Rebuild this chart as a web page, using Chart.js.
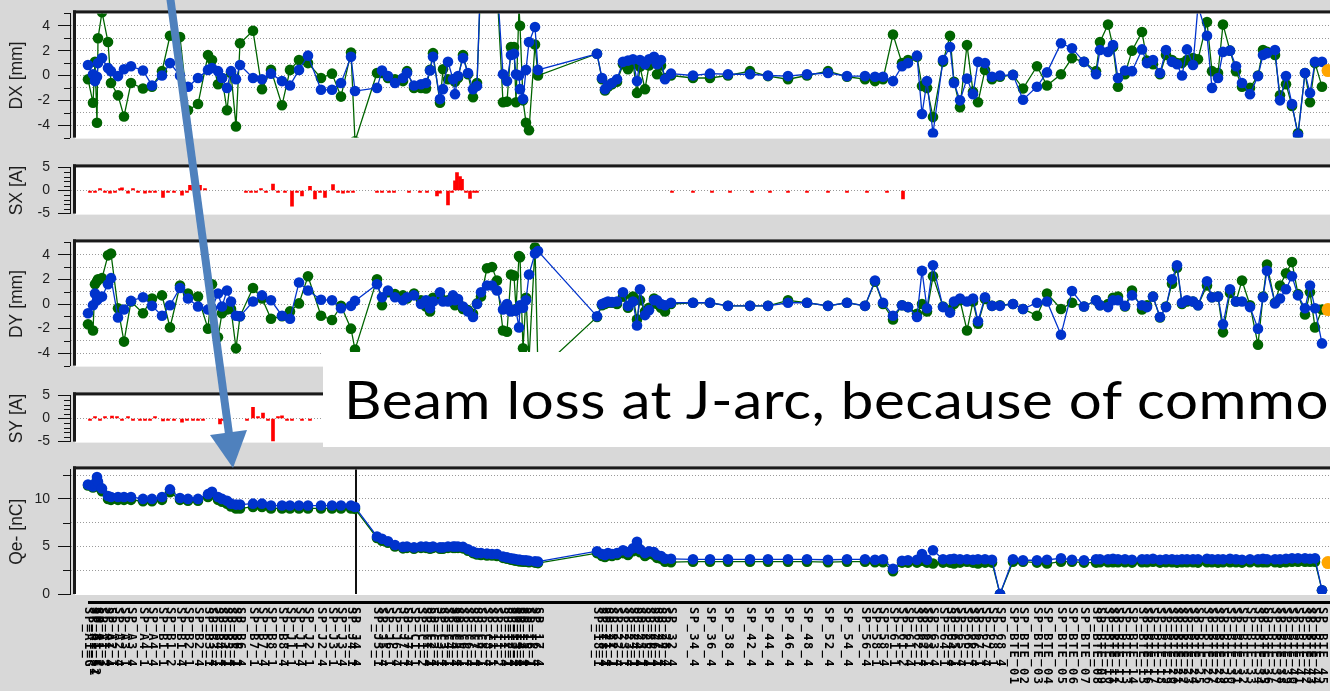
<!DOCTYPE html>
<html>
<head>
<meta charset="utf-8">
<title>Linac BPM orbit and charge</title>
<script src="https://cdn.jsdelivr.net/npm/chart.js@4.4.1/dist/chart.umd.min.js"></script>
<style>
  html, body { margin: 0; padding: 0; background: #d8d8d8; overflow: hidden; }
  #stage { position: relative; width: 1330px; height: 691px; overflow: hidden; background: #d8d8d8; }
  #stage canvas { position: absolute; left: 0; }
  #note { position: absolute; left: 323px; top: 352px; width: 1100px; height: 95px; background: #fff; }
  #note span { position: absolute; left: 21px; top: 21px; font-family: Lato, 'Open Sans', sans-serif;
               font-size: 52px; line-height: 52px; letter-spacing: 0.5px; color: #000; white-space: nowrap;
               transform: scaleX(1.12); transform-origin: 0 0; }
  #arrow { position: absolute; left: 0; top: 0; }
</style>
</head>
<body>
<div id="stage">
  <div id="note"><span>Beam loss at J-arc, because of common</span></div>
  <svg id="arrow" width="1330" height="691">
    <line x1="170" y1="-4" x2="229" y2="434" stroke="#4f81bd" stroke-width="8"/>
    <polygon points="210,435 247,430 233,468" fill="#4f81bd"/>
  </svg>
</div>
<script>
// ---- BPM positions along the line, s [m] ----
const bpmS = [
  // A/B sectors
  1.8, 2.3, 2.5, 2.7, 2.8, 3.2, 3.8, 4.1, 4.8, 5.4, 6.1, 7.3, 8.2, 9.2, 10.0, 11.0, 11.8, 12.8, 13.8,
  14.2, 14.8, 15.2, 15.7, 16.1, 16.6, 17.0, 18.3, 19.2, 20.1, 21.2, 22.0, 22.9, 23.8, 25.1, 26.2, 27.1, 28.1, 28.5,
  // after the J-arc
  30.7, 31.2, 31.8, 32.5, 33.3, 33.7, 34.4, 35.1, 35.6, 36.0, 36.3, 37.0, 37.3, 37.8, 38.3, 38.5, 38.8, 39.3, 39.8,
  40.3, 40.7, 41.1, 41.7, 42.2, 42.7, 43.3, 43.7, 44.1, 44.4, 44.6, 44.9, 45.0, 45.3, 45.6, 45.9, 46.5, 46.8,
  // sector 2
  52.7, 53.2, 53.5, 53.8, 54.2, 54.7, 55.3, 55.8, 56.3, 56.7, 57.0, 57.5, 57.9, 58.4, 58.7, 59.1, 59.5, 60.1,
  // sectors 3-5
  62.3, 64.0, 65.8, 68.0, 69.8, 71.8, 73.7, 75.8, 77.7, 79.5, 80.5, 81.3,
  // sector 6 and transport line
  82.3, 83.2, 83.8, 84.7, 85.2, 85.7, 86.3, 87.3, 88.0, 88.4, 89.0, 89.7, 90.3, 90.8, 91.5, 92.2, 93.0, 94.3, 95.3, 96.7,
  97.7, 99.1, 100.2, 101.4, 102.6, 103.0, 103.8, 104.3, 104.8, 105.5, 106.2, 107.2, 107.7, 108.3, 109.0, 109.6, 110.2, 110.7, 111.2, 111.7,
  112.3, 112.8, 113.7, 114.2, 114.8, 115.3, 116.0, 116.6, 117.2, 118.0, 118.8, 119.3, 119.7, 120.5, 121.0, 121.6, 122.2, 122.8, 123.5, 124.0,
  124.5, 125.2
];

const bpmNames = (
  'SP_A1_G SP_A1_S1 SP_A1_S2 SP_A1_1 SP_A1_2 SP_A1_3 SP_A1_4 SP_A2_1 SP_A2_4 SP_A3_1 SP_A3_4 SP_A4_1 SP_A4_4 ' +
  'SP_B1_1 SP_B1_2 SP_B1_4 SP_B2_1 SP_B2_4 SP_B3_1 SP_B3_4 SP_B4_1 SP_B4_4 SP_B5_1 SP_B5_4 SP_B6_1 SP_B6_4 ' +
  'SP_B7_1 SP_B7_4 SP_B8_1 SP_B8_4 SP_J1_1 SP_J1_4 SP_J2_1 SP_J2_4 SP_J3_1 SP_J3_4 SP_J4_1 SP_J4_4 ' +
  'SP_J5_1 SP_J5_4 SP_J6_1 SP_J6_4 SP_J7_1 SP_J7_4 SP_C1_1 SP_C1_2 SP_C1_4 SP_C2_1 SP_C2_4 SP_C3_1 SP_C3_4 ' +
  'SP_C4_1 SP_C4_4 SP_C5_1 SP_C5_4 SP_C6_1 SP_C6_4 SP_C7_1 SP_C7_4 SP_C8_1 SP_C8_4 SP_11_1 SP_11_2 SP_11_4 ' +
  'SP_12_1 SP_12_4 SP_13_1 SP_13_4 SP_14_1 SP_14_4 SP_15_1 SP_15_4 SP_16_1 SP_16_4 SP_17_4 ' +
  'SP_18_1 SP_18_4 SP_21_1 SP_21_4 SP_22_1 SP_22_4 SP_23_1 SP_23_4 SP_24_1 SP_24_4 SP_25_1 SP_25_4 SP_26_1 ' +
  'SP_26_4 SP_27_1 SP_27_4 SP_28_4 SP_32_4 ' +
  'SP_34_4 SP_36_4 SP_38_4 SP_42_4 SP_44_4 SP_46_4 SP_48_4 SP_52_4 SP_54_4 SP_56_4 SP_58_1 SP_58_4 ' +
  'SP_61_1 SP_61_2 SP_61_4 SP_62_1 SP_62_4 SP_63_1 SP_63_4 SP_64_1 SP_64_4 SP_65_1 SP_65_4 SP_66_1 SP_66_4 ' +
  'SP_67_1 SP_67_4 SP_68_1 SP_68_4 ' +
  'SP_BTE_01 SP_BTE_02 SP_BTE_03 SP_BTE_04 SP_BTE_05 SP_BTE_06 SP_BTE_07 SP_BTE_08 SP_BTE_09 SP_BTE_10 ' +
  'SP_BTE_11 SP_BTE_12 SP_BTE_13 SP_BTE_14 SP_BTE_15 SP_BTE_16 SP_BTE_17 SP_BTE_18 SP_BTE_19 SP_BTE_20 ' +
  'SP_BTE_21 SP_BTE_22 SP_BTE_23 SP_BTE_24 SP_BTE_25 SP_BTE_26 SP_BTE_27 SP_BTE_28 SP_BTE_29 SP_BTE_30 ' +
  'SP_BTE_31 SP_BTE_32 SP_BTE_33 SP_BTE_34 SP_BTE_35 SP_BTE_36 SP_BTE_37 SP_BTE_38 SP_BTE_39 SP_BTE_40 ' +
  'SP_BTE_41 SP_BTE_42 SP_BTE_43 SP_BTE_44 SP_BTE_45'
).split(' ');

// ---- horizontal orbit DX [mm]: reference (green) and present (blue) ----
const dxRef = [
  -0.3, -2.2, 1.1, -3.8, 3.0, 5.1, 2.7, -0.6, -1.6, -3.3, -0.6, -1.05, -0.9, 0.35, 3.2, 3.1, -2.8, -2.3, 1.65,
  1.25, -0.7, -0.2, -2.8, 0.2, -4.1, 2.6, 3.6, -1.1, 0.45, -2.4, 0.45, 1.25, 1.0, -0.2, 0.15, -1.7, 1.85, -5.3,
  0.2, 0.2, -0.2, -0.3, -0.45, 0.35, -1.0, -1.0, -1.05, 0.45, 1.8, -2.2, 0.5, -0.3, -0.3, -0.5, -0.2, 1.65, 0.1,
  -1.75, -0.6, 8.0, 9.0, 9.0, 7.0, -2.15, -2.1, 2.3, 2.3, -2.15, 5.5, 4.0, -2.0, -3.8, -4.4, 2.5, 0.0,
  1.75, -0.3, -1.2, -0.9, -0.7, -0.5, 0.9, 0.5, 1.0, -1.4, 0.7, -1.1, 0.8, 1.2, 0.1, 0.8, -0.2, 0.0,
  -0.2, -0.2, 0.0, 0.35, -0.05, -0.3, 0.0, 0.35, -0.1, -0.3, -0.45, -0.3,
  3.3, 1.0, 1.25, 1.5, -0.85, -1.0, -3.35, 1.1, 3.2, -0.5, -2.55, 2.45, -1.3, -2.15, 0.45, -0.3, -0.1, 0.05, -1.05, 0.75,
  -0.8, 0.1, 1.4, 1.1, 0.35, 2.7, 4.1, 2.3, -0.9, 0.1, 2.0, 3.5, 1.2, 0.9, 0.1, 1.65, 1.25, 1.0, 1.0, 1.25,
  1.4, 1.3, 4.3, 0.35, 0.2, 4.1, 2.0, 0.35, -0.9, -1.0, 0.0, 2.05, 1.9, 1.65, -1.6, -0.7, -2.45, -4.65, 0.2, -2.15,
  1.0, -0.9
];
const dxNow = [
  0.85, 0.1, -0.45, -0.1, 1.0, 1.4, 0.6, 0.35, -0.05, 0.5, 0.75, 0.4, -0.8, 0.0, 1.0, 0.0, -0.9, -0.2, 0.45,
  0.6, 0.35, -0.2, -1.0, 0.35, -0.3, 0.85, -0.2, -0.3, 0.15, -0.45, -0.8, 0.45, 1.6, -1.15, -1.15, -0.6, 1.5, -1.25,
  -1.0, 0.4, -0.05, -0.6, -0.2, 0.2, -0.8, -0.7, -0.6, 0.4, 1.5, -1.9, -1.1, 1.1, -0.3, -1.5, -0.05, 1.4, 0.2,
  -1.1, -0.85, 9.0, 9.0, 8.5, 7.5, 0.1, -0.45, 1.65, 1.75, 0.1, 0.0, -1.1, -1.9, 0.45, 2.7, 3.9, 0.45,
  1.75, -0.2, -1.1, -0.8, -0.6, -0.3, 1.1, 1.2, 1.3, -0.45, 1.25, 0.9, 1.3, 1.5, 0.9, 1.25, -0.3, 0.15,
  0.0, 0.15, 0.1, 0.1, 0.0, -0.05, 0.1, 0.2, -0.05, -0.05, -0.1, -0.1,
  -0.45, 0.75, 1.0, 1.6, -3.1, -0.45, -4.65, 1.25, 2.3, -0.6, -2.0, -0.25, -1.5, 1.1, 1.0, -0.1, 0.0, 0.05, -1.95, -0.9,
  0.25, 2.6, 2.2, 1.1, 0.1, 2.05, 1.9, 2.45, -0.2, 0.4, 0.35, 2.1, 1.0, 1.25, 0.2, 2.05, 1.1, 0.9, 0.0, 2.1,
  0.85, 5.6, 3.2, -1.0, -0.2, 1.9, 2.0, 0.75, -0.6, -1.5, -0.05, 1.65, 1.8, 2.05, -2.0, -0.05, -2.3, -4.8, 0.2, -1.4,
  1.1, 1.1
];

// ---- vertical orbit DY [mm] ----
const dyRef = [
  -1.65, -2.15, 1.6, 1.85, 2.0, 2.1, 3.95, 4.1, -0.35, -3.05, 0.2, -0.75, 0.45, 0.7, -1.9, 1.5, 0.85, 0.6, -2.0,
  1.6, -2.7, -0.75, -0.45, -0.4, -3.6, -1.0, 1.3, 0.45, -1.2, -1.0, -0.6, 0.05, 2.25, -0.95, -1.3, -0.15, -2.0, -3.7,
  2.0, -0.1, 0.95, 0.8, 0.7, 0.45, 0.85, 0.3, -0.2, -0.6, 0.5, 0.6, 0.3, 0.3, 0.3, -0.1, 0.2, -0.4, -0.5,
  -0.8, 0.05, 0.6, 2.9, 3.0, 1.9, -2.15, -2.25, 2.4, 2.3, -0.4, 3.9, 3.8, -3.6, 0.5, -4.5, 4.6, -5.5,
  -1.05, -0.1, 0.0, 0.1, 0.1, 0.0, 0.6, -0.3, 0.6, -1.25, 0.3, -0.6, -0.3, 0.45, 0.0, -0.3, -0.6, 0.0,
  0.1, 0.1, -0.15, -0.15, -0.15, 0.3, 0.1, -0.15, 0.1, -0.15, 1.8, 0.0,
  -1.25, -0.1, -0.25, -0.8, 0.0, -0.6, 2.25, -0.2, -0.5, 0.0, 0.3, -2.15, 0.2, -1.6, 0.4, -0.15, -0.1, 0.0, -0.4, -0.95,
  0.85, -0.4, 0.1, -0.2, 0.3, -0.1, 0.0, 0.5, 0.6, -0.2, 1.1, -0.45, -0.1, 0.6, -1.1, -0.2, 1.65, 2.95, 0.0, 0.2,
  0.2, -0.1, 1.5, 0.55, 0.6, -2.3, 0.9, 0.2, 1.9, -0.1, -3.3, 0.6, 3.2, 0.1, 1.5, 2.5, 3.4, 0.8, -0.85, 0.95,
  -1.9, -0.45
];
const dyNow = [
  -0.75, -0.1, 0.85, 0.3, 0.45, 0.6, 1.6, 2.1, -1.1, -0.45, 0.25, 0.55, -0.15, -0.95, -0.1, 1.3, 0.45, -0.2, -0.45,
  -0.35, 0.85, -0.2, 1.1, 0.2, -0.95, -1.0, 0.2, 0.7, 0.3, -0.95, -1.2, 1.75, 1.1, 0.35, 0.3, -0.35, -0.15, 0.25,
  1.6, 0.55, 1.1, 0.55, 0.3, 0.55, 0.7, 0.0, 0.3, -0.35, 0.2, 0.95, 0.2, 0.2, 0.7, 0.3, 0.4, -0.2, -0.6,
  -1.05, 0.0, 0.95, 1.5, 1.5, 1.1, -0.45, 0.0, -0.6, -0.5, -0.55, -1.9, -0.1, -0.3, 0.3, 2.4, 4.1, 4.3,
  -1.0, 0.0, 0.1, 0.2, 0.15, 0.2, 0.95, -0.15, 0.2, -1.75, 1.2, -0.9, -0.5, 0.3, 0.3, 0.0, -0.1, 0.1,
  0.1, 0.1, -0.15, -0.15, -0.15, 0.1, 0.1, -0.15, 0.1, -0.15, 1.9, 0.1,
  -0.95, -0.1, -0.25, -1.05, 2.7, -0.35, 3.15, -0.25, -0.7, 0.2, 0.45, 0.2, 0.45, -1.4, 0.55, -0.15, -0.15, 0.0, -0.4, 0.1,
  0.2, -2.5, 1.05, -0.2, 0.3, -0.1, -0.25, 0.3, 0.3, -0.15, 0.7, -0.1, -0.25, 0.6, -1.05, -0.25, 2.0, 3.15, 0.1, 0.3,
  0.2, -0.1, 1.85, 0.55, 0.6, -1.65, 1.2, 0.2, 0.2, -0.25, -2.0, 0.55, 2.7, 0.05, 0.45, 1.2, 2.25, 0.7, -0.35, 1.5,
  -0.35, -3.2
];

// ---- bunch charge Qe- [nC] ----
const qRef = [
  11.4, 11.2, 11.3, 12.0, 11.6, 10.8, 10.0, 9.9, 9.9, 9.9, 9.9, 9.75, 9.75, 9.9, 10.7, 9.9, 9.8, 9.8, 10.2,
  10.5, 9.9, 9.7, 9.5, 9.2, 9.0, 9.0, 9.15, 9.15, 9.0, 9.0, 9.0, 9.0, 9.0, 9.0, 9.0, 9.0, 9.0, 8.95,
  5.9, 5.6, 5.4, 5.0, 4.8, 4.85, 4.75, 4.85, 4.85, 4.75, 4.85, 4.75, 4.75, 4.85, 4.85, 4.85, 4.85, 4.8, 4.55,
  4.3, 4.15, 4.1, 4.05, 4.05, 4.0, 3.8, 3.7, 3.6, 3.55, 3.5, 3.45, 3.45, 3.4, 3.4, 3.35, 3.3, 3.25,
  4.3, 4.0, 3.9, 4.1, 4.0, 4.1, 4.3, 4.1, 4.5, 5.1, 4.4, 4.0, 4.2, 4.1, 3.8, 3.7, 3.4, 3.35,
  3.4, 3.4, 3.4, 3.4, 3.4, 3.4, 3.4, 3.35, 3.4, 3.4, 3.35, 3.35,
  2.4, 3.3, 3.3, 3.3, 3.5, 3.3, 3.2, 3.3, 3.3, 3.2, 3.3, 3.4, 3.3, 3.2, 3.3, 3.3, 0.0, 3.4, 3.4, 3.3,
  3.2, 3.4, 3.4, 3.3, 3.3, 3.35, 3.35, 3.35, 3.35, 3.35, 3.3, 3.35, 3.35, 3.4, 3.3, 3.35, 3.35, 3.3, 3.35, 3.35,
  3.35, 3.3, 3.35, 3.35, 3.3, 3.35, 3.35, 3.35, 3.3, 3.35, 3.35, 3.35, 3.35, 3.35, 3.3, 3.35, 3.4, 3.4, 3.4, 3.4,
  3.4, 0.4
];
const qNow = [
  11.5, 11.3, 11.6, 12.3, 11.8, 11.1, 10.3, 10.2, 10.2, 10.2, 10.2, 10.0, 10.0, 10.2, 11.0, 10.1, 10.0, 10.0, 10.5,
  10.75, 10.2, 10.0, 9.8, 9.5, 9.4, 9.4, 9.5, 9.5, 9.3, 9.3, 9.3, 9.3, 9.3, 9.3, 9.3, 9.3, 9.3, 9.15,
  6.05, 5.8, 5.55, 5.15, 4.95, 5.0, 4.9, 5.0, 5.0, 4.9, 5.0, 4.9, 4.9, 5.0, 5.0, 5.0, 5.0, 4.95, 4.7,
  4.45, 4.3, 4.3, 4.25, 4.2, 4.2, 3.95, 3.85, 3.75, 3.7, 3.65, 3.6, 3.6, 3.55, 3.55, 3.5, 3.45, 3.4,
  4.5, 4.2, 4.1, 4.3, 4.2, 4.3, 4.6, 4.4, 4.8, 5.5, 4.7, 4.3, 4.5, 4.4, 4.1, 4.0, 3.7, 3.7,
  3.65, 3.65, 3.65, 3.65, 3.65, 3.65, 3.65, 3.6, 3.65, 3.65, 3.6, 3.65,
  2.65, 3.5, 3.55, 3.6, 4.2, 3.6, 4.6, 3.65, 3.65, 3.7, 3.65, 3.65, 3.6, 3.65, 3.65, 3.6, 0.0, 3.65, 3.55, 3.55,
  3.6, 3.75, 3.6, 3.55, 3.65, 3.65, 3.65, 3.7, 3.65, 3.65, 3.6, 3.65, 3.65, 3.7, 3.6, 3.65, 3.65, 3.6, 3.65, 3.65,
  3.65, 3.65, 3.7, 3.65, 3.65, 3.65, 3.7, 3.65, 3.6, 3.65, 3.65, 3.7, 3.65, 3.65, 3.65, 3.7, 3.75, 3.75, 3.75, 3.7,
  3.75, 0.4
];

// ---- last (selected) monitor ----
const tipS = [125.8];
const tipDx = [0.4];
const tipDy = [-0.45];
const tipQ = [3.3];

// ---- steering magnet kicks [A] ----
const sxS = [
  2.0, 2.5, 3.0, 3.5, 4.0, 4.5, 5.0, 5.2, 5.8, 6.3, 6.8, 7.5, 8.0, 8.5, 9.3, 9.8, 10.4, 11.2, 11.7, 12.0, 12.5, 13.0, 13.5,
  17.6, 18.1, 18.6, 19.1, 19.6, 20.3, 20.8, 21.5, 22.2, 22.7, 23.2, 24.0, 24.5, 25.0, 25.5, 26.3, 26.8, 27.3, 27.8, 28.3,
  30.7, 31.2, 31.9, 32.4, 33.9, 35.0, 35.7,
  36.7, 37.0, 37.8, 38.2, 38.5, 38.7, 39.0, 39.2, 39.6, 40.0, 40.4, 40.7,
  60.2, 62.3, 64.2, 66.0, 68.2, 70.0, 71.8, 73.7, 75.8, 77.7, 79.7, 81.7, 83.3
];
const sxKick = [
  -0.2, -0.2, 0.2, -0.2, -0.6, -0.2, 0.3, 0.6, -0.6, 0.2, -0.2, -0.6, -0.2, -0.2, -1.5, -0.2, -0.2, -1.0, -0.2, 1.1, -0.2, 1.1, 0.2,
  -0.2, -0.2, -0.2, 0.2, -0.2, 1.4, -0.2, -0.2, -3.4, -0.2, -1.2, 0.9, -1.8, -0.2, -1.5, 1.3, -0.2, -0.6, -0.2, -0.2,
  -0.2, -0.2, -0.2, -0.2, -0.2, -0.2, -0.2,
  -1.2, -0.6, -3.1, -0.2, 2.1, 3.9, 3.0, 2.4, -0.2, -1.7, -0.2, -0.2,
  -0.15, -0.15, -0.15, -0.15, -0.15, -0.15, -0.15, -0.15, -0.15, -0.15, -0.15, -0.15, -1.8
];
const syS = [
  2.0, 2.5, 3.0, 3.5, 4.2, 4.7, 5.2, 5.8, 6.3, 7.0, 7.5, 8.0, 8.5, 9.3, 9.8, 10.4, 11.2, 11.7, 12.3, 12.8, 13.3,
  15.0, 15.3,
  17.7, 18.3, 18.8, 19.3, 19.8, 20.3, 20.8, 21.2, 21.7, 22.2, 23.2, 24.0,
  25.5, 26.3, 27.3, 28.3
];
const syKick = [
  -0.2, 0.2, -0.2, 0.2, 0.5, 0.2, -0.2, 0.2, -0.2, -0.2, -0.3, -0.2, 0.2, -0.5, -0.2, -0.2, -0.8, -0.2, -0.2, -0.2, -0.2,
  -1.2, -0.2,
  -0.2, 2.4, 0.2, 1.2, -0.2, -4.9, 0.3, 0.6, -0.2, -0.2, -0.2, -0.4,
  -0.2, 0.3, -0.2, -0.2
];

// J-arc boundary drawn in the charge panel
const jArcS = 28.6;

// ---- drawing ----
Chart.defaults.font.family = "'Liberation Sans', Arial, sans-serif";

const BLUE = '#0033cc', GREEN = '#006400', ORANGE = '#ffa500', RED = '#ff0000';
const S_MAX = 127.5;
const PAD = 14;
const CANVAS_W = 1345;
const panels = {
  dx: { top: 11, bottom: 140 },
  sx: { top: 165, bottom: 216 },
  dy: { top: 240, bottom: 368 },
  sy: { top: 393, bottom: 444 },
  qe: { top: 467, bottom: 594, below: 97 }
};

const stage = document.getElementById('stage');
const note = document.getElementById('note');

function makeCanvas(key) {
  const p = panels[key];
  const below = p.below || PAD;
  const c = document.createElement('canvas');
  c.width = CANVAS_W;
  c.height = (p.bottom - p.top) + PAD + below;
  c.style.top = (p.top - PAD) + 'px';
  stage.insertBefore(c, note);
  return { canvas: c, padding: { top: PAD, bottom: below, left: 0, right: 0 } };
}

const near = (list, v) => list.some(t => Math.abs(t - v) < 1e-9);

// white plot face, heavy frame and short minor ticks
const panelDeco = {
  id: 'panelDeco',
  beforeDraw(chart) {
    const { ctx, chartArea: a } = chart;
    ctx.save();
    ctx.fillStyle = '#ffffff';
    ctx.fillRect(a.left + 5, a.top, a.right - a.left - 5, a.bottom - a.top + 1);
    ctx.restore();
  },
  afterDraw(chart, args, o) {
    const { ctx, chartArea: a, scales: { y } } = chart;
    ctx.save();
    ctx.fillStyle = '#1a1a1a';
    ctx.fillRect(a.left + 3, a.top - 3, a.right - a.left, 3);
    ctx.fillRect(a.left + 3, a.top - 3, 3, a.bottom - a.top + 3);
    ctx.strokeStyle = '#111';
    ctx.lineWidth = 1;
    (o.minor || []).forEach(v => {
      const py = Math.round(y.getPixelForValue(v)) + 0.5;
      ctx.beginPath();
      ctx.moveTo(a.left - o.minorLen, py);
      ctx.lineTo(a.left, py);
      ctx.stroke();
    });
    ctx.restore();
  }
};
Chart.register(panelDeco);

// monitor names under the charge panel, plus the J-arc boundary line
const bpmLabels = {
  id: 'bpmLabels',
  beforeDatasetsDraw(chart, args, o) {
    const { ctx, chartArea: a, scales: { x } } = chart;
    const mx = Math.round(x.getPixelForValue(o.marker));
    ctx.save();
    ctx.fillStyle = '#111';
    ctx.fillRect(mx - 1, a.top, 2, a.bottom - a.top);
    ctx.restore();
  },
  afterDraw(chart, args, o) {
    const { ctx, chartArea: a, scales: { x } } = chart;
    ctx.save();
    ctx.fillStyle = '#000';
    const x0 = Math.round(x.getPixelForValue(o.pos[0]));
    ctx.fillRect(x0, a.bottom + 7, chart.width - x0, 3);
    ctx.font = o.font;
    ctx.textBaseline = 'middle';
    ctx.textAlign = 'left';
    if ('letterSpacing' in ctx) ctx.letterSpacing = o.spacing;
    o.pos.forEach((s, i) => {
      ctx.save();
      ctx.translate(Math.round(x.getPixelForValue(s)), a.bottom + 13);
      ctx.rotate(Math.PI / 2);
      ctx.fillText(o.names[i], 0, 0);
      ctx.restore();
    });
    ctx.restore();
  }
};

function xAxis() {
  return { type: 'linear', min: 0, max: S_MAX, display: false, offset: false, grid: { offset: false } };
}

function yAxis(cfg) {
  return {
    position: 'left',
    min: cfg.min, max: cfg.max,
    afterFit: s => { s.width = 70; },
    afterBuildTicks: s => { s.ticks = cfg.ticks.map(v => ({ value: v })); },
    ticks: {
      autoSkip: false, padding: 8, color: '#1e1e1e', font: { size: 14 },
      callback: v => near(cfg.labels, v) ? String(v) : ''
    },
    grid: {
      drawOnChartArea: true, drawTicks: true, tickLength: 12, lineWidth: 1, tickWidth: 1,
      color: c => (c.tick && near(cfg.grid, c.tick.value)) ? '#9a9a9a' : 'rgba(0,0,0,0)',
      tickColor: c => (c.tick && near(cfg.labels, c.tick.value)) ? '#111' : 'rgba(0,0,0,0)'
    },
    border: { display: true, color: '#111', width: 1, dash: [1, 2] },
    title: { display: true, text: cfg.title, color: '#1e1e1e', font: { size: 17.5 }, padding: { top: 7, bottom: 0 } }
  };
}

function options(padding, cfg, extra) {
  return {
    responsive: false, animation: false, devicePixelRatio: 1, events: [],
    layout: { padding, autoPadding: false },
    scales: { x: xAxis(), y: yAxis(cfg) },
    plugins: Object.assign({
      legend: { display: false }, tooltip: { enabled: false },
      panelDeco: { minor: cfg.ticks.filter(v => !near(cfg.labels, v)), minorLen: cfg.minorLen }
    }, extra || {})
  };
}

const pts = (xs, ys) => xs.map((s, i) => ({ x: s, y: ys[i] }));

function trace(label, xs, ys, color, order, r) {
  return {
    type: 'line', label, data: pts(xs, ys), order,
    borderColor: color, backgroundColor: color, borderWidth: 1.3,
    pointRadius: r, pointHoverRadius: r, pointBorderWidth: 0,
    tension: 0, clip: 0, spanGaps: true
  };
}

function orbitChart(key, title, ref, now, tip) {
  const { canvas, padding } = makeCanvas(key);
  const cfg = { min: -5, max: 5, ticks: [-5, -4, -3, -2, -1, 0, 1, 2, 3, 4, 5],
                labels: [-4, -2, 0, 2, 4], grid: [-4, -3, -2, -1, 0, 1, 2, 3, 4], title, minorLen: 6 };
  return new Chart(canvas, {
    type: 'line',
    data: { datasets: [
      trace('selected', tipS, tip, ORANGE, 0, 6.5),
      trace('present', bpmS, now, BLUE, 1, 5.3),
      trace('reference', bpmS, ref, GREEN, 2, 5.3)
    ] },
    options: options(padding, cfg)
  });
}

function kickChart(key, title, xs, ys) {
  const { canvas, padding } = makeCanvas(key);
  const cfg = { min: -5, max: 5, ticks: [-5, -4, -3, -2, -1, 0, 1, 2, 3, 4, 5],
                labels: [-5, 0, 5], grid: [0], title, minorLen: 6 };
  return new Chart(canvas, {
    type: 'bar',
    data: { datasets: [{ label: 'kick', data: pts(xs, ys), backgroundColor: RED,
                         barThickness: 3, minBarLength: 2, borderWidth: 0, clip: 0 }] },
    options: options(padding, cfg)
  });
}

function chargeChart(key, title) {
  const { canvas, padding } = makeCanvas(key);
  const cfg = { min: 0, max: 13.1, ticks: [0, 2.5, 5, 7.5, 10, 12.5],
                labels: [0, 5, 10], grid: [2.5, 5, 7.5, 10, 12.5], title, minorLen: 7 };
  return new Chart(canvas, {
    type: 'line',
    data: { datasets: [
      trace('selected', tipS, tipQ, ORANGE, 0, 6.5),
      trace('present', bpmS, qNow, BLUE, 1, 5.3),
      trace('reference', bpmS, qRef, GREEN, 2, 5.3)
    ] },
    options: options(padding, cfg, {
      bpmLabels: { pos: bpmS, names: bpmNames, marker: jArcS,
                   font: 'bold 12px "DejaVu Sans Mono", monospace', spacing: '1.5px' }
    }),
    plugins: [bpmLabels]
  });
}

orbitChart('dx', 'DX [mm]', dxRef, dxNow, tipDx);
kickChart('sx', 'SX [A]', sxS, sxKick);
orbitChart('dy', 'DY [mm]', dyRef, dyNow, tipDy);
kickChart('sy', 'SY [A]', syS, syKick);
chargeChart('qe', 'Qe- [nC]');
</script>
</body>
</html>
